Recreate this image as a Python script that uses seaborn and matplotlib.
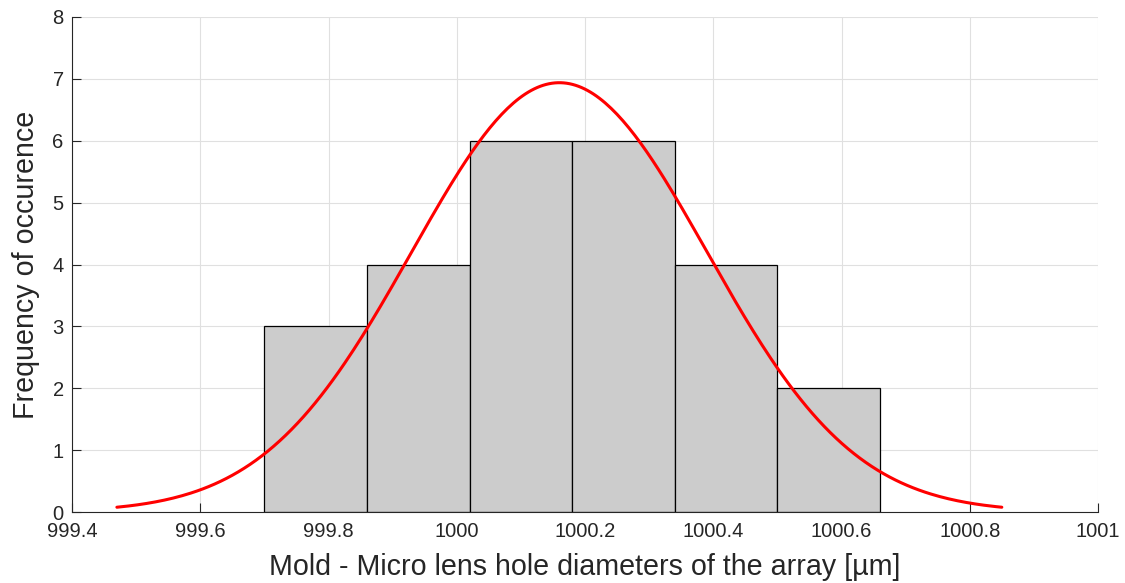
import numpy as np
import pandas as pd
import matplotlib
matplotlib.use("Agg")
import matplotlib.pyplot as plt
import seaborn as sns

# Histogram data
bin_edges = [999.70, 999.86, 1000.02, 1000.18, 1000.34, 1000.50, 1000.66]
counts = [3, 4, 6, 6, 4, 2]
# Normal fit parameters
fit_mean = 1000.16
fit_sigma = 0.23
n_total = 25
bin_width = 0.16

sns.set_theme(style="white")
plt.rcParams['font.family'] = ['Liberation Sans', 'DejaVu Sans']

fig = plt.figure(figsize=(11.25, 5.83), dpi=100)
ax = fig.add_axes([72/1125, 1-512/583, (1098-72)/1125, (512-17)/583])

centers = [(a + b) / 2 for a, b in zip(bin_edges[:-1], bin_edges[1:])]
df = pd.DataFrame({"x": centers, "w": counts})
sns.histplot(data=df, x="x", weights="w", bins=bin_edges, ax=ax,
             color="#cccccc", edgecolor="black", linewidth=0.9, alpha=1, zorder=2)

xs = np.linspace(fit_mean - 3 * fit_sigma, fit_mean + 3 * fit_sigma, 300)
ys = n_total * bin_width / (fit_sigma * np.sqrt(2 * np.pi)) * np.exp(-0.5 * ((xs - fit_mean) / fit_sigma) ** 2)
sns.lineplot(x=xs, y=ys, ax=ax, color="red", linewidth=2.2, zorder=3)

ax.set_xlim(999.4, 1001)
ax.set_ylim(0, 8)
ax.set_xticks(np.arange(999.4, 1001.01, 0.2))
ax.set_xticklabels(["999.4", "999.6", "999.8", "1000", "1000.2", "1000.4", "1000.6", "1000.8", "1001"])
ax.set_yticks(range(0, 9))
ax.grid(True, color="#e0e0e0", linewidth=0.8, zorder=0)
ax.set_axisbelow(True)
for s in ["top", "right"]:
    ax.spines[s].set_visible(False)
for s in ["left", "bottom"]:
    ax.spines[s].set_color("#262626")
    ax.spines[s].set_linewidth(0.8)
ax.tick_params(direction="in", length=6.5, width=0.8, color="#262626",
               labelsize=14.5, labelcolor="#262626", left=True, bottom=True)
ax.tick_params(axis="x", pad=7)
ax.tick_params(axis="y", pad=6)
ax.set_xlabel("Mold - Micro lens hole diameters of the array [µm]", fontsize=20.6, color="#262626", labelpad=9)
ax.set_ylabel("Frequency of occurence", fontsize=20.6, color="#262626", labelpad=9)

fig.savefig("out.png", dpi=100)
